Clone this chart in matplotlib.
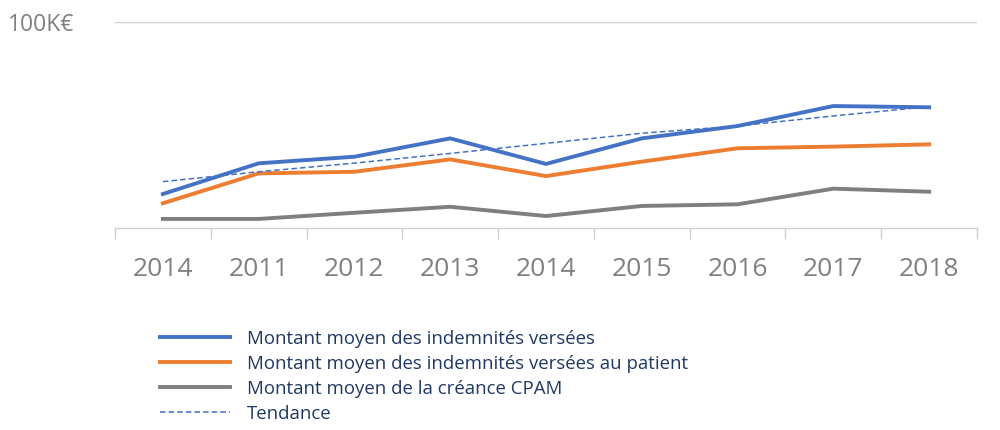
import matplotlib
matplotlib.use("Agg")
import matplotlib.pyplot as plt
from matplotlib.ticker import FixedLocator

plt.rcParams['font.family'] = ['Open Sans', 'DejaVu Sans']
plt.rcParams['lines.scale_dashes'] = False

categories = ["2014", "2011", "2012", "2013", "2014", "2015", "2016", "2017", "2018"]
indemnites = [16.5, 31.4, 34.6, 43.5, 31.1, 43.5, 49.5, 59.2, 58.6]
indemnites_patient = [12.0, 26.5, 27.3, 33.3, 25.2, 32.2, 38.7, 39.5, 40.6]
creance_cpam = [4.4, 4.4, 7.4, 10.3, 5.8, 10.7, 11.5, 19.1, 17.6]
tendance = [22.5, 27.3, 31.5, 36.2, 41.1, 46.0, 49.5, 54.4, 58.9]
labels = ["Montant moyen des indemnités versées",
          "Montant moyen des indemnités versées au patient",
          "Montant moyen de la créance CPAM",
          "Tendance"]

fig = plt.figure(figsize=(10, 4.3), dpi=100)
ax = fig.add_axes([0.115, 1 - 228 / 430, 0.977 - 0.115, (228 - 22) / 430])

x = list(range(len(categories)))
ax.plot(x, indemnites, color="#4472C4", lw=2.8, label=labels[0], zorder=3)
ax.plot(x, indemnites_patient, color="#ED7D31", lw=2.8, label=labels[1], zorder=3)
ax.plot(x, creance_cpam, color="#7F7F7F", lw=2.8, label=labels[2], zorder=3)
ax.plot(x, tendance, color="#4472C4", lw=1.1, dashes=(4.0, 2.2), label=labels[3], zorder=4)

ax.set_xlim(-0.5, len(categories) - 0.5)
ax.set_ylim(0, 100)

for s in ["top", "right", "left"]:
    ax.spines[s].set_visible(False)
ax.spines["bottom"].set_color("#D0D0D0")
ax.spines["bottom"].set_linewidth(1.0)

ax.set_xticks(x)
ax.set_xticklabels(categories, fontsize=19, color="#808080")
ax.tick_params(axis="x", which="major", length=0, pad=21)
ax.xaxis.set_minor_locator(FixedLocator([i - 0.5 for i in range(len(categories) + 1)]))
ax.tick_params(axis="x", which="minor", length=8, width=1.0, color="#D0D0D0")

ax.set_yticks([100])
ax.set_yticklabels(["100K€"], fontsize=16.5, color="#808080")
ax.tick_params(axis="y", length=0, pad=29)
ax.yaxis.grid(True, color="#D0D0D0", lw=1.0)
ax.set_axisbelow(True)

handles, lbls = ax.get_legend_handles_labels()
leg = fig.legend(handles, lbls, loc="upper left", bbox_to_anchor=(0.16, 1 - 330 / 430),
                 frameon=False, fontsize=13.4, handlelength=3.75, handletextpad=0.9,
                 labelspacing=0.37, labelcolor="#1F3864", borderaxespad=0, borderpad=0)

fig.savefig("out.png", dpi=100)
